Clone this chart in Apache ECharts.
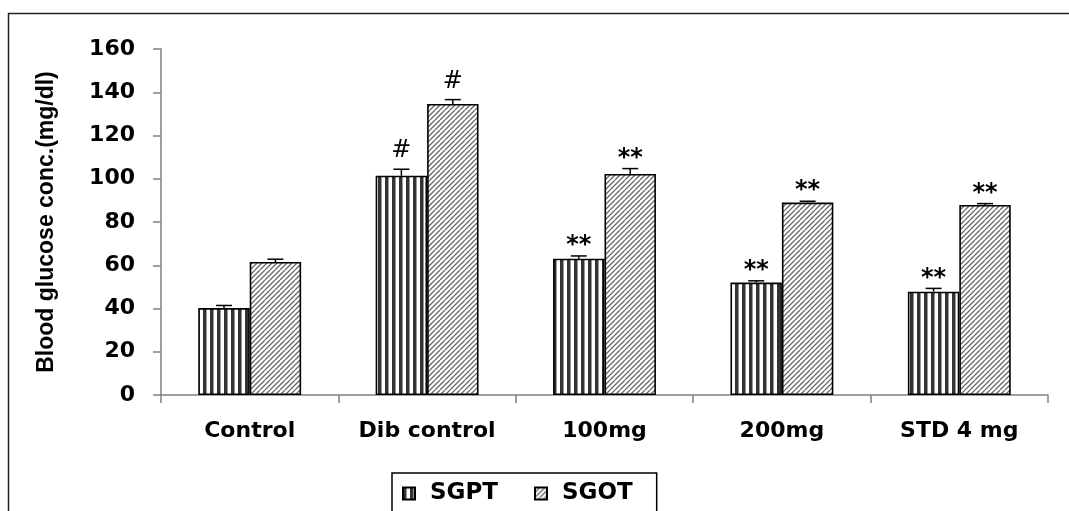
<!DOCTYPE html>
<html>
<head>
<meta charset="utf-8">
<title>SGPT / SGOT levels</title>
<script src="https://cdn.jsdelivr.net/npm/echarts@6/dist/echarts.min.js"></script>
<style>
  html, body { margin: 0; padding: 0; background: #fff; }
  #chart { width: 1069px; height: 511px; }
</style>
</head>
<body>
<div id="chart"></div>
<script>
// Treatment groups and measured enzyme levels (mean, upper error)
var categories = ['Control', 'Dib control', '100mg', '200mg', 'STD 4 mg'];
var sgpt = [40.2, 101.4, 63.0, 52.0, 47.8];
var sgot = [61.5, 134.6, 102.2, 89.0, 87.9];
var sgptErr = [1.2, 3.0, 1.3, 0.8, 1.5];
var sgotErr = [1.3, 2.0, 2.5, 0.6, 0.6];
var sgptMark = ['', '#', '**', '**', '**'];
var sgotMark = ['', '#', '**', '**', '**'];
var yTicks = [0, 20, 40, 60, 80, 100, 120, 140, 160];

var FONT = '"DejaVu Sans", "Liberation Sans", Arial, sans-serif';
var BAR_FRAC = 0.29;

// Fill patterns: vertical stripes and diagonal hatching
function stripePattern() {
  var c = document.createElement('canvas');
  c.width = 7; c.height = 7;
  var g = c.getContext('2d');
  g.fillStyle = '#fff'; g.fillRect(0, 0, 7, 7);
  g.fillStyle = '#333'; g.fillRect(0, 0, 3.5, 7);
  return c;
}
function hatchPattern() {
  var c = document.createElement('canvas');
  c.width = 10; c.height = 10;
  var g = c.getContext('2d');
  g.fillStyle = '#fff'; g.fillRect(0, 0, 10, 10);
  g.strokeStyle = '#6a6a6a'; g.lineWidth = 1.3;
  for (var k = -10; k <= 10; k += 5) {
    g.beginPath(); g.moveTo(k, 10); g.lineTo(k + 10, 0); g.stroke();
  }
  return c;
}

// Error bar plus significance mark on top of each bar
function errorRenderer(errs, marks, side) {
  return function (params, api) {
    var i = api.value(0), v = api.value(1), e = api.value(2);
    var base = api.coord([i, v]);
    var catW = api.size([1, 0])[0];
    var cx = base[0] + side * catW * BAR_FRAC / 2;
    var top = base[1];
    var cap = api.coord([i, v + e])[1];
    var mark = marks[params.dataIndex];
    var children = [
      { type: 'line', shape: { x1: cx, y1: top, x2: cx, y2: cap },
        style: { stroke: '#000', lineWidth: 1.5 } },
      { type: 'line', shape: { x1: cx - 8, y1: cap, x2: cx + 8, y2: cap },
        style: { stroke: '#000', lineWidth: 1.5 } }
    ];
    if (mark) {
      children.push({
        type: 'text',
        style: {
          text: mark, x: cx, y: cap - (mark === '#' ? 18 : 10),
          align: 'center', verticalAlign: 'middle',
          fontSize: 24, fontFamily: FONT, fontWeight: mark === '#' ? 'normal' : 'bold',
          fill: '#000'
        }
      });
    }
    return { type: 'group', children: children };
  };
}

var chart = echarts.init(document.getElementById('chart'));
chart.setOption({
  animation: false,
  backgroundColor: '#fff',
  graphic: [{
    type: 'rect', z: -10,
    shape: { x: 8.5, y: 13.5, width: 1200, height: 700 },
    style: { fill: 'transparent', stroke: '#222', lineWidth: 1.5 }
  }],
  grid: { left: 161, right: 21, top: 49, bottom: 116 },
  legend: {
    data: ['SGPT', 'SGOT'],
    left: 392, top: 473,
    icon: 'rect', itemWidth: 12, itemHeight: 12, itemGap: 36,
    padding: [9, 24, 20, 10],
    borderColor: '#000', borderWidth: 1.5, backgroundColor: '#fff',
    textStyle: { fontFamily: FONT, fontWeight: 'bold', fontSize: 23, color: '#000', padding: [0, 0, 0, 10] }
  },
  xAxis: {
    type: 'category',
    data: categories,
    axisLine: { lineStyle: { color: '#808080', width: 1.5 } },
    axisTick: { show: true, interval: 0, length: 8, lineStyle: { color: '#808080', width: 1.5 } },
    axisLabel: { interval: 0, margin: 25, fontFamily: FONT, fontWeight: 'bold', fontSize: 22, color: '#000' }
  },
  yAxis: {
    type: 'value',
    min: yTicks[0], max: yTicks[yTicks.length - 1], interval: yTicks[1] - yTicks[0],
    name: 'Blood glucose conc.(mg/dl)',
    nameLocation: 'middle', nameGap: 103, nameRotate: 90,
    nameTextStyle: { fontFamily: '"Liberation Sans", Arial, sans-serif', fontWeight: 'bold', fontSize: 23, color: '#000' },
    axisLine: { show: true, lineStyle: { color: '#808080', width: 1.5 } },
    axisTick: { show: true, length: 8, lineStyle: { color: '#808080', width: 1.5 } },
    splitLine: { show: false },
    axisLabel: { margin: 26, fontFamily: FONT, fontWeight: 'bold', fontSize: 22, color: '#000' }
  },
  series: [
    {
      name: 'SGPT', type: 'bar', data: sgpt,
      barWidth: (BAR_FRAC * 100) + '%', barGap: '0%',
      itemStyle: { color: { image: stripePattern(), repeat: 'repeat' }, borderColor: '#000', borderWidth: 1.6 }
    },
    {
      name: 'SGOT', type: 'bar', data: sgot,
      barWidth: (BAR_FRAC * 100) + '%', barGap: '0%',
      itemStyle: { color: { image: hatchPattern(), repeat: 'repeat' }, borderColor: '#000', borderWidth: 1.6 }
    },
    {
      type: 'custom', z: 5, silent: true,
      data: sgpt.map(function (v, i) { return [i, v, sgptErr[i]]; }),
      renderItem: errorRenderer(sgptErr, sgptMark, -1)
    },
    {
      type: 'custom', z: 5, silent: true,
      data: sgot.map(function (v, i) { return [i, v, sgotErr[i]]; }),
      renderItem: errorRenderer(sgotErr, sgotMark, 1)
    }
  ]
});
</script>
</body>
</html>
